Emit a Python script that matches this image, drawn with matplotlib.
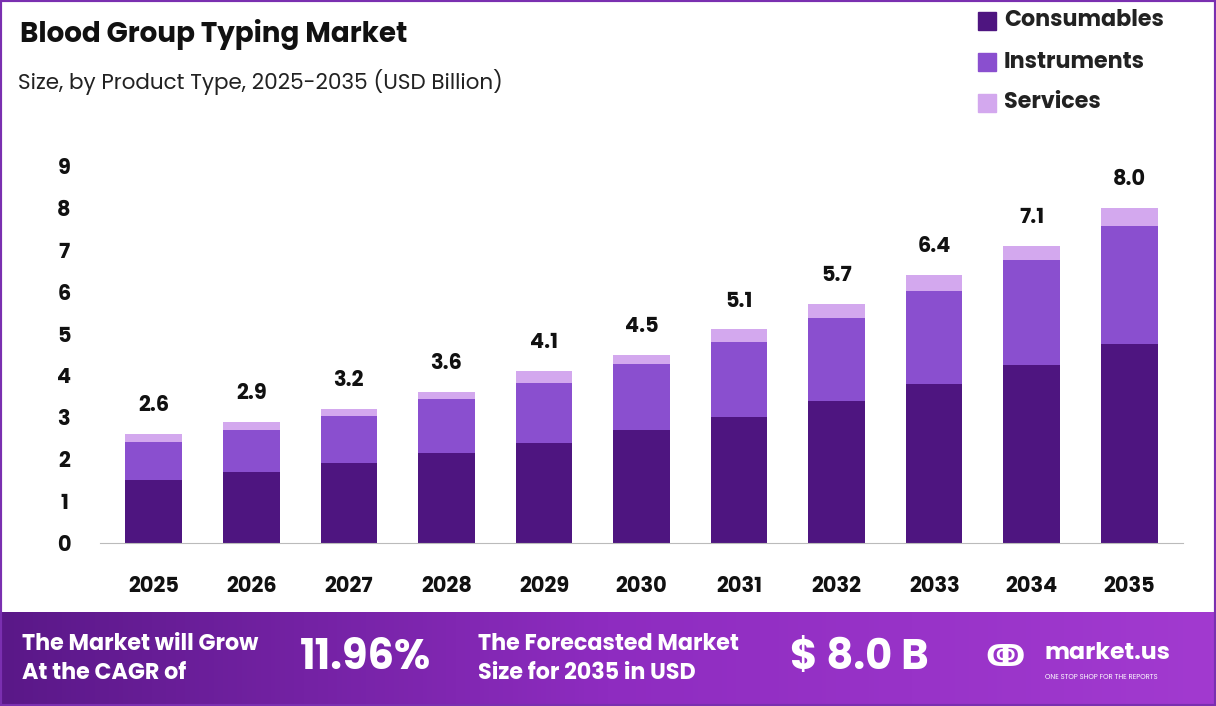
import matplotlib
matplotlib.use("Agg")
import matplotlib.pyplot as plt
import numpy as np
from matplotlib.patches import Rectangle
from matplotlib.colors import LinearSegmentedColormap

years = ["2025","2026","2027","2028","2029","2030","2031","2032","2033","2034","2035"]
consumables = [1.50,1.69,1.91,2.15,2.39,2.70,3.01,3.39,3.79,4.25,4.75]
instruments = [0.91,1.01,1.12,1.29,1.43,1.57,1.79,1.98,2.22,2.50,2.82]
totals = [2.6,2.9,3.2,3.6,4.1,4.5,5.1,5.7,6.4,7.1,8.0]
services = [round(t-c-i,2) for t,c,i in zip(totals,consumables,instruments)]

plt.rcParams['font.family'] = ['Poppins','Lato','DejaVu Sans']
c1, c2, c3 = "#4e1580", "#8a4fcf", "#d3a8ee"

fig = plt.figure(figsize=(12.16,7.06), dpi=100)
W, H = 1216, 706
ax = fig.add_axes([100/W, 1-543/H, (1183-100)/W, (543-166)/H])
x = np.arange(len(years))
ax.bar(x, consumables, 0.58, color=c1, label="Consumables")
ax.bar(x, instruments, 0.58, bottom=consumables, color=c2, label="Instruments")
b2 = np.array(consumables)+np.array(instruments)
ax.bar(x, services, 0.58, bottom=b2, color=c3, label="Services")
for xi, t in zip(x, totals):
    ax.text(xi, t+0.4, f"{t:.1f}", ha="center", va="bottom", fontsize=15, fontweight="bold", color="#111")
ax.set_xlim(-0.55, len(years)-0.45)
ax.set_ylim(0, 9)
ax.set_yticks(range(10))
ax.set_xticks(x)
ax.set_xticklabels(years)
for s in ["top","right","left"]:
    ax.spines[s].set_visible(False)
ax.spines["bottom"].set_color("#bbbbbb")
ax.tick_params(axis="both", length=0, labelsize=15, colors="#111")
ax.tick_params(axis="x", pad=24)
ax.tick_params(axis="y", pad=26)
for l in ax.get_xticklabels()+ax.get_yticklabels():
    l.set_fontweight("bold")
    l.set_horizontalalignment("center")

fig.text(20/W, 1-35/H, "Blood Group Typing Market", fontsize=20, fontweight="bold", va="center", color="#111")
fig.text(18/W, 1-82/H, "Size, by Product Type, 2025-2035 (USD Billion)", fontsize=15.5, va="center", color="#222")

for i,(lab,c) in enumerate([("Consumables",c1),("Instruments",c2),("Services",c3)]):
    yc = 1-(21+41*i)/H
    fig.patches.append(Rectangle((978/W, yc-9/H), 18/W, 18/H, transform=fig.transFigure, color=c))
    fig.text(1004/W, yc, lab, fontsize=16, fontweight="bold", va="center", color="#222")

fig.patches.append(Rectangle((0,0),1,1,transform=fig.transFigure, fill=False, ec="#7a2fb0", lw=3))
fax = fig.add_axes([0,0,1,(706-612)/H])
grad = np.linspace(0,1,256).reshape(1,-1)
cm = LinearSegmentedColormap.from_list("g", ["#5a1888","#8e2cc0","#a23ad0"])
fax.imshow(grad, aspect="auto", cmap=cm, extent=[0,1,0,1])
fax.set_xlim(0,1); fax.set_ylim(0,1); fax.axis("off")
fax.text(22/W, 0.5, "The Market will Grow\nAt the CAGR of", color="white", fontsize=16, fontweight="bold", va="center", linespacing=1.4)
fax.text(300/W, 0.5, "11.96%", color="white", fontsize=30, fontweight="bold", va="center")
fax.text(478/W, 0.5, "The Forecasted Market\nSize for 2035 in USD", color="white", fontsize=16, fontweight="bold", va="center", linespacing=1.4)
fax.text(790/W, 0.5, "$ 8.0 B", color="white", fontsize=30, fontweight="bold", va="center")
fax.text(1045/W, 0.56, "market.us", color="white", fontsize=17, fontweight="bold", va="center")
fax.text(1045/W, 0.3, "ONE STOP SHOP FOR THE REPORTS", color="white", fontsize=5, va="center")
fax.text(985/W, 0.5, "ↂ", color="white", fontsize=22, fontweight="bold", va="center")

fig.savefig("out.png", dpi=100)
